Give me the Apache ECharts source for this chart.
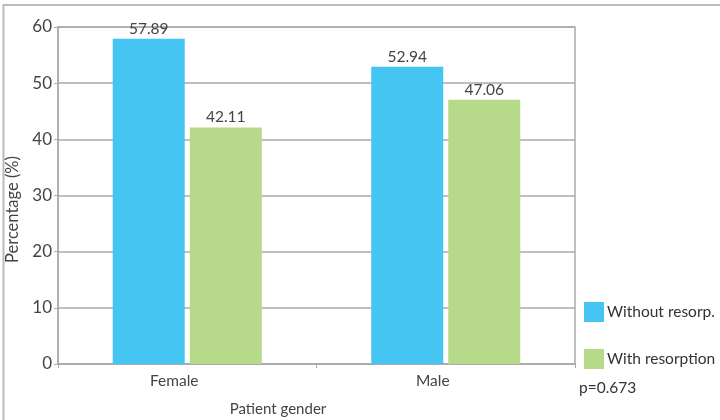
<!DOCTYPE html>
<html>
<head>
<meta charset="utf-8">
<script src="https://cdn.jsdelivr.net/npm/echarts@6/dist/echarts.min.js"></script>
<style>
  html, body { margin: 0; padding: 0; background: #fff; }
  #chart { width: 720px; height: 420px; }
</style>
</head>
<body>
<div id="chart"></div>
<script>
var genders = ['Female', 'Male'];
var seriesNames = ['Without resorp.', 'With resorption'];
var withoutResorp = [57.89, 52.94];
var withResorp = [42.11, 47.06];
var yTicks = [0, 60, 10]; // min, max, interval
var pValue = 'p=0.673';

var myChart = echarts.init(document.getElementById('chart'));

var font = 'Lato, "Open Sans", sans-serif';
var txt = '#444';

var option = {
    backgroundColor: '#fff',
    animation: false,
    textStyle: { fontFamily: font },
    grid: {
        left: 58, right: 145, top: 27, bottom: 56,
        outerBoundsMode: 'none',
        show: true, borderColor: '#aaa', borderWidth: 1.5
    },
    legend: {
        orient: 'vertical',
        left: 579,
        top: 297,
        itemWidth: 20,
        itemHeight: 20,
        itemGap: 27,
        icon: 'rect',
        data: seriesNames,
        textStyle: { color: '#333', fontSize: 15.5, fontFamily: font, padding: [0, 0, 0, -2] }
    },
    xAxis: {
        type: 'category',
        data: genders,
        name: 'Patient gender',
        nameLocation: 'middle',
        nameGap: 38,
        nameTextStyle: { color: txt, fontSize: 15, padding: [0, 77, 0, 0] },
        axisLine: { lineStyle: { color: '#aaa', width: 1.5 } },
        axisTick: { show: true, length: 4, lineStyle: { color: '#aaa' } },
        axisLabel: { color: txt, fontSize: 15.5, margin: 9, padding: [0, 26, 0, 0] }
    },
    yAxis: {
        type: 'value',
        min: yTicks[0],
        max: yTicks[1],
        interval: yTicks[2],
        name: 'Percentage (%)',
        nameLocation: 'middle',
        nameGap: 34,
        nameTextStyle: { color: txt, fontSize: 16.5, padding: [0, 28, 0, 0] },
        axisLine: { show: true, lineStyle: { color: '#aaa', width: 1.5 } },
        axisTick: { show: true, length: 4, lineStyle: { color: '#aaa' } },
        axisLabel: { color: txt, fontSize: 17, margin: 6 },
        splitLine: { lineStyle: { color: '#aaa', width: 1.5 } }
    },
    series: [
        {
            name: seriesNames[0],
            type: 'bar',
            data: withoutResorp,
            barWidth: 72,
            barGap: '7%',
            itemStyle: { color: '#45c6f2' },
            label: { show: true, position: 'top', distance: 2, color: txt, fontSize: 15.5 }
        },
        {
            name: seriesNames[1],
            type: 'bar',
            data: withResorp,
            barWidth: 72,
            barGap: '7%',
            itemStyle: { color: '#b6d98a' },
            label: { show: true, position: 'top', distance: 2, color: txt, fontSize: 15.5 }
        }
    ],
    graphic: [
        {
            type: 'rect',
            shape: { x: 3.5, y: 5, width: 740, height: 440 },
            style: { fill: 'none', stroke: '#bbb', lineWidth: 2 },
            silent: true
        },
        {
            type: 'text',
            left: 579,
            top: 380,
            style: { text: pValue, fill: '#333', font: '15.5px ' + font }
        }
    ]
};

myChart.setOption(option);
</script>
</body>
</html>
